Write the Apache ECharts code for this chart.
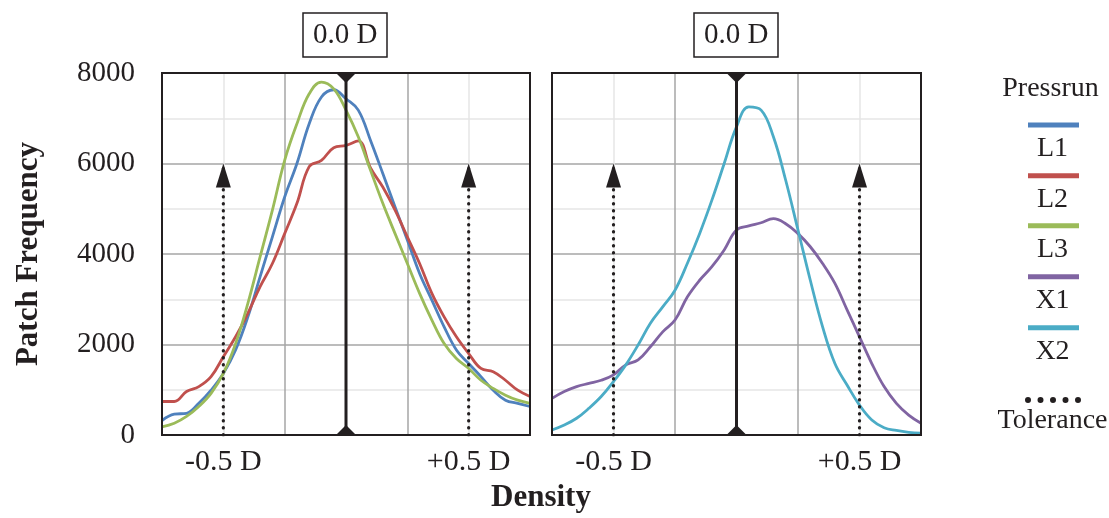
<!DOCTYPE html>
<html>
<head>
<meta charset="utf-8">
<script src="https://cdn.jsdelivr.net/npm/echarts@6/dist/echarts.min.js"></script>
<style>
  html, body { margin: 0; padding: 0; background: #fff; }
  #chart { width: 1109px; height: 518px; }
</style>
</head>
<body>
<div id="chart"></div>
<script>
//Données
const density = [-0.75, -0.70, -0.65, -0.60, -0.55, -0.50, -0.45, -0.40, -0.35, -0.30, -0.25,
                 -0.20, -0.15, -0.10, -0.05, 0.00, 0.05, 0.10, 0.15, 0.20, 0.25,
                 0.30, 0.35, 0.40, 0.45, 0.50, 0.55, 0.60, 0.65, 0.70, 0.75];
const L1 = [320, 460, 480, 700, 990, 1360, 1880, 2610, 3500, 4380, 5260, 6000, 6880, 7470, 7630, 7430,
            7180, 6510, 5780, 5040, 4310, 3570, 2980, 2390, 1880, 1580, 1290, 990, 770, 700, 630];
const L2 = [740, 740, 960, 1070, 1290, 1730, 2170, 2690, 3280, 3790, 4450, 5120, 5930, 6070, 6350, 6400,
            6500, 5900, 5480, 4970, 4380, 3790, 3130, 2610, 2170, 1800, 1470, 1400, 1210, 990, 850];
const L3 = [180, 260, 410, 630, 920, 1360, 2020, 2910, 3940, 4970, 6070, 6880, 7540, 7800, 7650, 7180,
            6590, 5850, 5120, 4450, 3790, 3130, 2540, 2020, 1690, 1470, 1210, 1030, 880, 770, 700];
const X1 = [810, 960, 1070, 1140, 1210, 1330, 1550, 1660, 1950, 2280, 2540, 3050, 3420, 3720, 4090, 4530,
            4620, 4690, 4780, 4670, 4450, 4160, 3790, 3350, 2760, 2170, 1580, 1070, 700, 440, 260];
const X2 = [110, 220, 370, 590, 850, 1180, 1550, 1990, 2470, 2830, 3200, 3790, 4450, 5190, 6000, 6810,
            7250, 7180, 6590, 5630, 4530, 3420, 2390, 1580, 1100, 660, 330, 160, 100, 60, 40];
const tolerance = [-0.5, 0.5];
const toleranceTop = 6000;
const target = 0;
const freqMax = 8000;

const INK = '#231f20';
const FONT = 'Liberation Serif';
const colors = { L1: '#4f81bd', L2: '#c0504d', L3: '#9bbb59', X1: '#8064a2', X2: '#4bacc6' };
const panels = [
  { grid: 0, runs: { L1, L2, L3 } },
  { grid: 1, runs: { X1, X2 } }
];
//Position verticale (centre du trait) de chaque entrée de légende
const legendRows = [
  { name: 'L1', y: 125 }, { name: 'L2', y: 175.7 }, { name: 'L3', y: 225.7 },
  { name: 'X1', y: 276.7 }, { name: 'X2', y: 327.7 }, { name: 'Tolerance', y: 400 }
];

let chart = echarts.init(document.getElementById('chart'));

const txt = (size, bold) => ({ fontFamily: FONT, fontSize: size, fontWeight: bold ? 'bold' : 'normal', color: INK });

//Axes communs aux deux panneaux
const xAxes = [0, 1].map(g => ({
  type: 'value', gridIndex: g, min: -0.75, max: 0.75, interval: 0.25,
  axisLine: { show: false }, axisTick: { show: false },
  axisLabel: {
    ...txt(30), margin: 12,
    formatter: v => Math.abs(v + 0.5) < 1e-6 ? '-0.5 D' : (Math.abs(v - 0.5) < 1e-6 ? '+0.5 D' : '')
  },
  splitLine: { lineStyle: { color: ['#a6a6a6', '#e6e6e6'], width: 1.5 } }
}));

const yAxes = [0, 1].map(g => ({
  type: 'value', gridIndex: g, min: 0, max: freqMax, interval: 1000,
  axisLine: { show: false }, axisTick: { show: false },
  axisLabel: { show: g === 0, ...txt(29), margin: 27, formatter: v => v % 2000 === 0 ? String(v) : '' },
  splitLine: { lineStyle: { color: ['#a6a6a6', '#e6e6e6'], width: 1.5 } },
  name: g === 0 ? 'Patch Frequency' : '',
  nameLocation: 'middle', nameGap: 118,
  nameTextStyle: txt(31, true)
}));

//Séries : courbes, ligne cible, tolérances
const series = [];
panels.forEach(p => {
  Object.keys(p.runs).forEach(name => {
    series.push({
      name, type: 'line', xAxisIndex: p.grid, yAxisIndex: p.grid,
      smooth: 0.4, symbol: 'none', z: 2,
      lineStyle: { color: colors[name], width: 2.8 },
      itemStyle: { color: colors[name] },
      data: density.map((d, i) => [d, p.runs[name][i]])
    });
  });
  series.push({
    name: 'target', type: 'line', xAxisIndex: p.grid, yAxisIndex: p.grid,
    z: 4, clip: false, silent: true,
    lineStyle: { color: INK, width: 3 }, itemStyle: { color: INK },
    data: [
      { value: [target, 0], symbol: 'triangle', symbolSize: [20, 10], symbolOffset: [0, -5] },
      { value: [target, freqMax], symbol: 'triangle', symbolRotate: 180, symbolSize: [20, 10], symbolOffset: [0, 5] }
    ]
  });
  tolerance.forEach(t => {
    series.push({
      name: 'Tolerance', type: 'line', xAxisIndex: p.grid, yAxisIndex: p.grid,
      z: 3, silent: true, symbol: 'none',
      lineStyle: { color: INK, width: 3.2, type: [0.5, 6.5], cap: 'round' },
      itemStyle: { color: INK },
      data: [
        [t, 0],
        { value: [t, toleranceTop], symbol: 'triangle', symbolSize: [15, 24], symbolOffset: [0, 12] }
      ]
    });
  });
});

//Icône pointillée de la légende (5 points)
const dots = 'path://' + [3, 15.5, 28, 40.5, 53]
  .map(c => `M${c - 3},3a3,3 0 1,0 6,0a3,3 0 1,0 -6,0`).join('');

//Légende : un composant par entrée, trait au-dessus et libellé centré dessous
const legends = legendRows.map(r => ({
  orient: 'vertical', selectedMode: false, padding: 0,
  left: r.name === 'Tolerance' ? 1025 : 1028,
  top: r.y - (r.name === 'Tolerance' ? 3 : 2.5),
  itemWidth: r.name === 'Tolerance' ? 56 : 51, itemHeight: r.name === 'Tolerance' ? 6 : 5,
  itemStyle: { borderWidth: 0 },
  formatter: () => '',
  textStyle: { fontSize: 1, lineHeight: 1, color: 'transparent' },
  data: [{ name: r.name, icon: r.name === 'Tolerance' ? dots : 'rect' }]
}));

const labelTitles = legendRows.map(r => ({
  text: r.name, left: 1052.5, textAlign: 'center', padding: 0,
  top: r.y + (r.name === 'Tolerance' ? 18.7 : 22.5) - 12.5,
  textStyle: { ...txt(28), lineHeight: 28 }
}));

chart.setOption({
  backgroundColor: '#fff',
  animation: false,
  title: [
    { text: '0.0 D', left: 303, top: 13, borderColor: INK, borderWidth: 1.5, padding: [7, 10],
      textStyle: { ...txt(29), lineHeight: 30 } },
    { text: '0.0 D', left: 694, top: 13, borderColor: INK, borderWidth: 1.5, padding: [7, 10],
      textStyle: { ...txt(29), lineHeight: 30 } },
    { text: 'Pressrun', left: 1050.5, top: 74.2, textAlign: 'center', padding: 0, textStyle: { ...txt(28), lineHeight: 28 } },
    { text: 'Density', left: 541, top: 482, textAlign: 'center', padding: 0, textStyle: { ...txt(31, true), lineHeight: 32 } },
    ...labelTitles
  ],
  legend: legends,
  grid: [
    { left: 162, top: 73, width: 368, height: 362, show: true, borderColor: INK, borderWidth: 2, z: 5 },
    { left: 552, top: 73, width: 369, height: 362, show: true, borderColor: INK, borderWidth: 2, z: 5 }
  ],
  xAxis: xAxes,
  yAxis: yAxes,
  series
});

window.addEventListener('resize', () => chart.resize());
</script>
</body>
</html>
